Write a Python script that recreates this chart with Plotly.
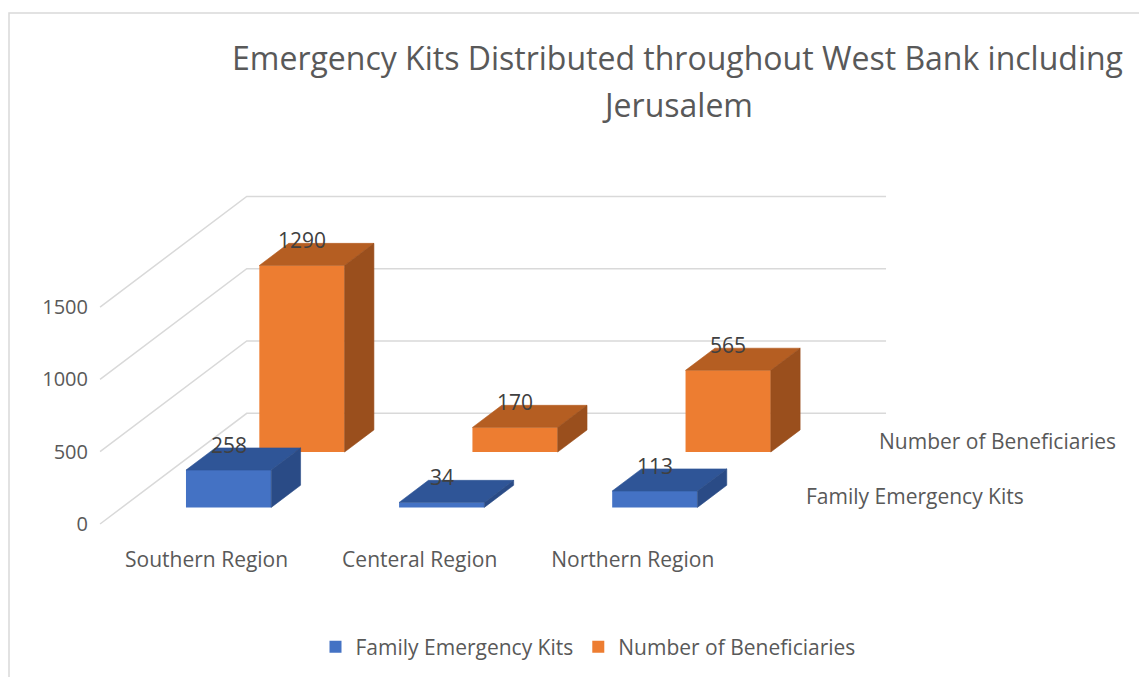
import plotly.graph_objects as go

categories = ["Southern Region", "Centeral Region", "Northern Region"]
series_names = ["Family Emergency Kits", "Number of Beneficiaries"]
family_kits = [258, 34, 113]
beneficiaries = [1290, 170, 565]
y_ticks = [0, 500, 1000, 1500]
title_lines = ["Emergency Kits Distributed throughout West Bank including", "Jerusalem"]

FONT = "Open Sans"
GREY = "#595959"
GRID = "#D9D9D9"
# front, top, side face colours per series
FACES = [("#4472C4", "#2F5597", "#2A4B86"),
         ("#ED7D31", "#B55E22", "#9A4F1D")]

W, H = 1147, 677
PAD = 8                               # page body margin around the figure
L, R, T, B = 81, 0, 0, 137
# pixel geometry (screen coords) of the Excel-style oblique 3D box
PX_X0, PX_PER_CAT = 206.6 - PAD, 213.1   # first category centre on the front floor edge
PX_Y0, PX_PER_UNIT = 524 - PAD, 0.1446   # value 0 on the front edge
DEPTH_PX = (146.7, -110.7)               # offset of the full floor depth
DX = DEPTH_PX[0] / PX_PER_CAT
DV = -DEPTH_PX[1] / PX_PER_UNIT
BAR_W = 0.4
BAR_D = 0.2


def paper_x(px):
    return (px - PAD - L) / (W - L - R)


def paper_y(py):
    return (H - B - (py - PAD)) / (H - T - B)


fig = go.Figure()
n = len(categories)
all_series = [family_kits, beneficiaries]

# front faces as real bars
for s, vals in enumerate(all_series):
    d0 = 0.5 * s + 0.15
    fig.add_trace(go.Bar(
        x=[i + d0 * DX for i in range(n)], y=vals, base=[d0 * DV] * n,
        width=BAR_W, name=series_names[s],
        marker=dict(color=FACES[s][0], line=dict(width=0)),
        customdata=categories,
        hovertemplate="%{customdata}<br>" + series_names[s] + ": %{y}<extra></extra>",
    ))

# top and side faces, back row first
for s in reversed(range(len(all_series))):
    vals = all_series[s]
    d0 = 0.5 * s + 0.15
    d1 = d0 + BAR_D
    tx, ty, sx, sy = [], [], [], []
    for i, v in enumerate(vals):
        xl, xr = i - BAR_W / 2, i + BAR_W / 2
        t0, t1 = d0 * DV + v, d1 * DV + v
        tx += [xl + d0 * DX, xr + d0 * DX, xr + d1 * DX, xl + d1 * DX, xl + d0 * DX, None]
        ty += [t0, t0, t1, t1, t0, None]
        sx += [xr + d0 * DX, xr + d1 * DX, xr + d1 * DX, xr + d0 * DX, xr + d0 * DX, None]
        sy += [d0 * DV, d1 * DV, t1, t0, d0 * DV, None]
    for xs, ys, col in [(tx, ty, FACES[s][1]), (sx, sy, FACES[s][2])]:
        fig.add_trace(go.Scatter(x=xs, y=ys, mode="lines", fill="toself",
                                 fillcolor=col, line=dict(width=0.6, color=col),
                                 showlegend=False, hoverinfo="skip"))

# walls' gridlines (side wall + back wall)
shapes = []
for v in y_ticks:
    path = (f"M {-0.5},{v} L {-0.5 + DX},{v + DV} "
            f"L {n - 0.5 + DX},{v + DV}")
    shapes.append(dict(type="path", path=path, xref="x", yref="y",
                       line=dict(color=GRID, width=1.5), layer="below"))
# chart frame
shapes.append(dict(type="rect", xref="paper", yref="paper",
                   x0=paper_x(9), x1=paper_x(1170), y0=paper_y(700), y1=paper_y(13),
                   line=dict(color=GRID, width=1.5), fillcolor="rgba(0,0,0,0)"))

annotations = []
# data labels on top of each bar
for s, vals in enumerate(all_series):
    d0 = 0.5 * s + 0.15
    d1 = d0 + BAR_D
    for i, v in enumerate(vals):
        annotations.append(dict(x=i + d0 * DX, y=d1 * DV + v, text=str(v),
                                showarrow=False, yshift=3, yanchor="middle",
                                font=dict(size=21, color="#404040", family=FONT)))
    # depth-axis series labels
    dc = 0.5 * s + 0.25
    annotations.append(dict(x=n - 0.5 + dc * DX, y=dc * DV, text=series_names[s],
                            showarrow=False, xanchor="left", xshift=28,
                            font=dict(size=21, color=GREY, family=FONT)))
# title
for k, line in enumerate(title_lines):
    annotations.append(dict(xref="paper", yref="paper", x=paper_x(677), y=paper_y(57 + 48 * k),
                            text=line, showarrow=False, xanchor="center", yanchor="middle",
                            font=dict(size=32, color=GREY, family=FONT)))

fig.update_layout(
    width=W, height=H, margin=dict(l=L, r=R, t=T, b=B),
    plot_bgcolor="white", paper_bgcolor="white",
    barmode="overlay", showlegend=True,
    font=dict(family=FONT, color=GREY, size=21),
    xaxis=dict(range=[(L - PX_X0) / PX_PER_CAT, (W - R - PX_X0) / PX_PER_CAT],
               tickvals=list(range(n)), ticktext=categories, ticks="",
               showgrid=False, zeroline=False, showline=False, ticklabelstandoff=-3,
               tickfont=dict(size=21, color=GREY)),
    yaxis=dict(range=[(PX_Y0 - (H - B)) / PX_PER_UNIT, (PX_Y0 - T) / PX_PER_UNIT],
               tickvals=y_ticks, ticks="", showgrid=False, zeroline=False, showline=False,
               tickfont=dict(size=20, color=GREY)),
    legend=dict(orientation="h", x=paper_x(588), y=paper_y(647), xanchor="center",
                yanchor="middle", font=dict(size=21, color=GREY)),
    shapes=shapes, annotations=annotations,
)

fig.write_html("out.html")
